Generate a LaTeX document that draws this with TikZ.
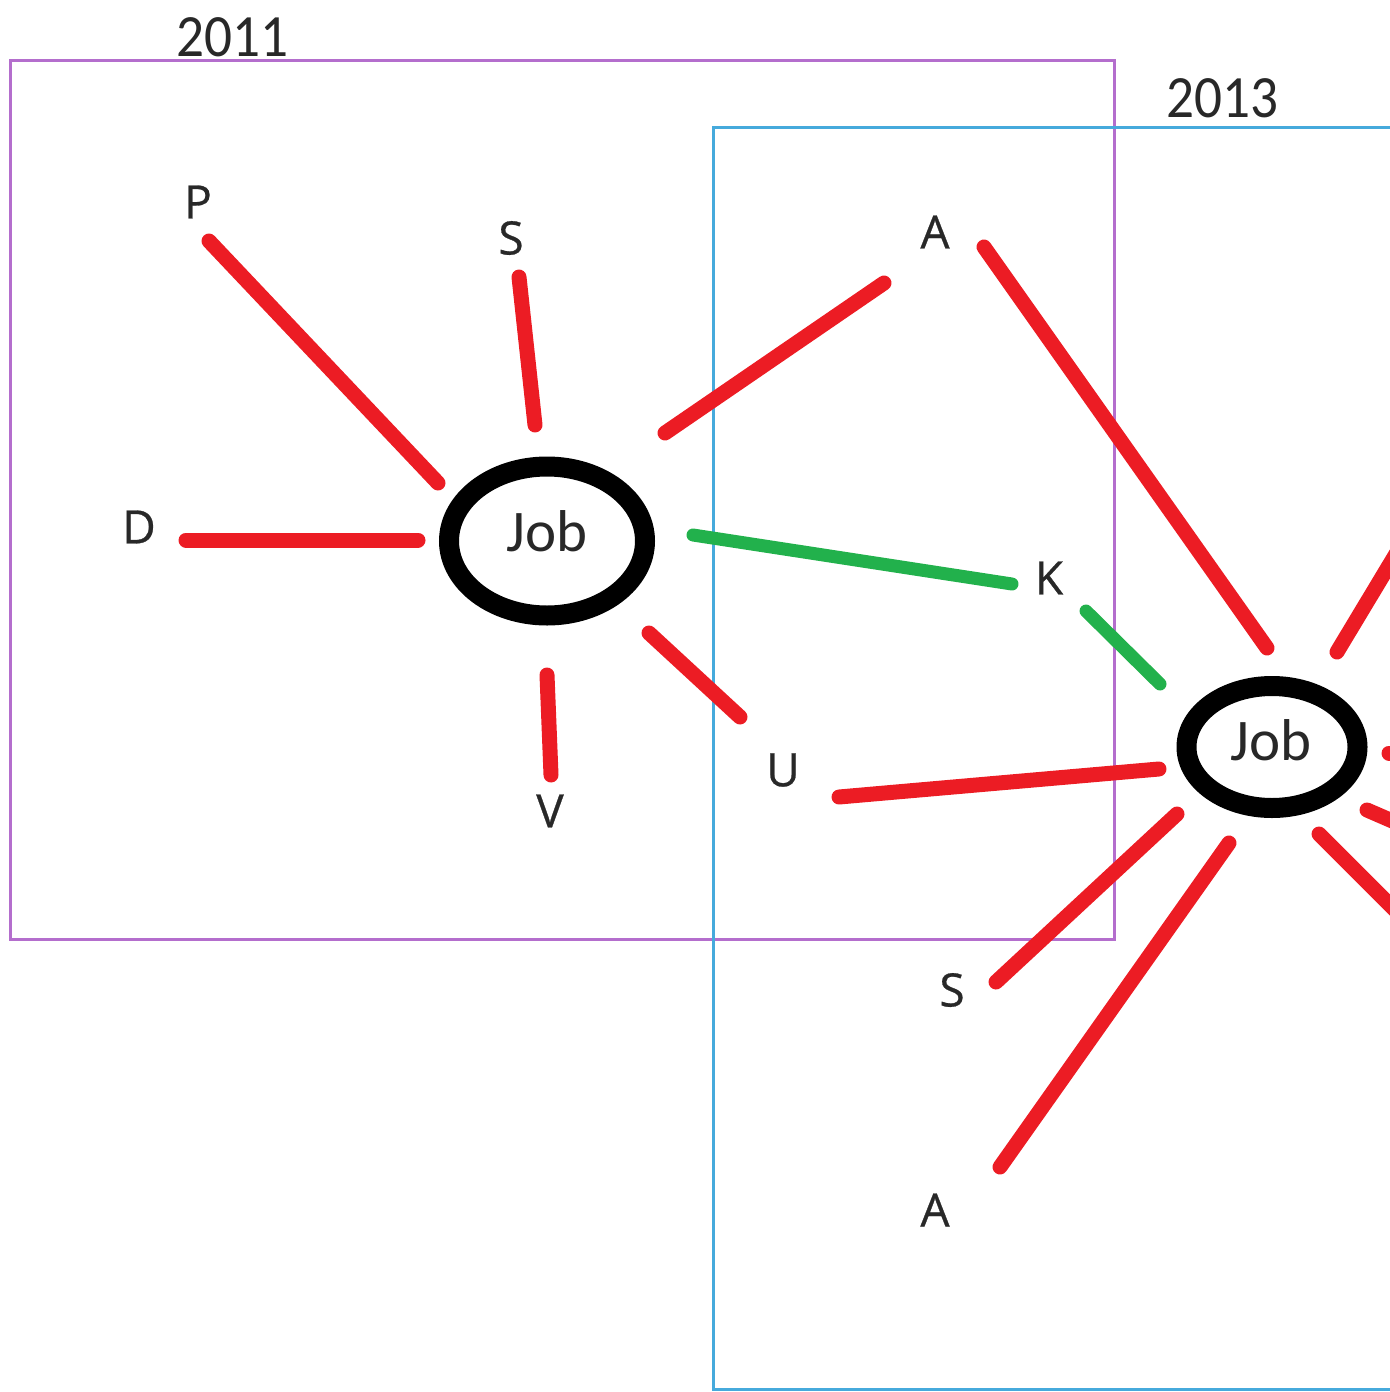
\documentclass[tikz,border=0pt]{standalone}
\usepackage{fontspec}
\setmainfont{Carlito}
\newfontfamily\lblfont[FakeBold=0.6]{Open Sans}
\usetikzlibrary{shapes.geometric}
\definecolor{redln}{RGB}{236,28,36}
\definecolor{greenln}{RGB}{34,177,76}
\definecolor{purpbox}{RGB}{180,110,205}
\definecolor{bluebox}{RGB}{70,170,220}
\definecolor{txt}{RGB}{40,40,40}
\begin{document}
\begin{tikzpicture}[x=0.5pt,y=-0.5pt,
  redline/.style={line width=7.5pt, draw=redln, line cap=round},
  greenline/.style={line width=6.5pt, draw=greenln, line cap=round},
  jobnode/.style={ellipse, draw=black, line width=10pt, inner sep=0pt},
  jobtext/.style={text=txt, font=\fontsize{29.5}{30}\selectfont, inner sep=0pt},
  lbl/.style={text=txt, font=\lblfont\fontsize{23}{24}\selectfont, inner sep=0pt},
  yearlbl/.style={text=txt, font=\fontsize{30}{32}\selectfont, inner sep=0pt, xscale=0.92},
  boxline/.style={line width=1.5pt}]
\useasboundingbox (0,0) rectangle (1390,1392);
\clip (0,0) rectangle (1390,1392);

% year boxes
\draw[boxline, draw=purpbox] (10,60) rectangle (1114,939);
\draw[boxline, draw=bluebox] (713,127) rectangle (1500,1389);
\node[yearlbl] (y2011) at (232,37) {2011};
\node[yearlbl] (y2013) at (1222,98) {2013};

% job nodes
\node[jobnode, minimum width=98pt, minimum height=74.5pt] (job1) at (547,541) {};
\node[jobtext] (job1t) at (547,531) {Job};
\node[jobnode, minimum width=85.5pt, minimum height=61pt] (job2) at (1272,747) {};
\node[jobtext] (job2t) at (1271,740) {Job};

% labels
\node[lbl] (P)  at (198,202) {P};
\node[lbl] (S1) at (511,238) {S};
\node[lbl] (A1) at (935,232) {A};
\node[lbl] (D)  at (139,527) {D};
\node[lbl] (K)  at (1049,578) {K};
\node[lbl] (U)  at (783,770) {U};
\node[lbl] (V)  at (550,811) {V};
\node[lbl] (S2) at (952,990) {S};
\node[lbl] (A2) at (935,1210) {A};

% connector end points
\coordinate (pA) at (209,241);   \coordinate (pB) at (438,483);
\coordinate (sA) at (519,277);   \coordinate (sB) at (535,425);
\coordinate (dA) at (186,540);   \coordinate (dB) at (418,540);
\coordinate (vA) at (547,675);   \coordinate (vB) at (551,775);
\coordinate (uA) at (649,633);   \coordinate (uB) at (740,717);
\coordinate (aA) at (665,433);   \coordinate (aB) at (884,283);
\coordinate (kA) at (693,535);   \coordinate (kB) at (1012,584);
\coordinate (kC) at (1086,611);  \coordinate (kD) at (1160,684);
\coordinate (bA) at (984,247);   \coordinate (bB) at (1267,648);
\coordinate (cA) at (839,797);   \coordinate (cB) at (1159,769);
\coordinate (eA) at (996,982);   \coordinate (eB) at (1177,814);
\coordinate (fA) at (1000,1167); \coordinate (fB) at (1229,843);
\coordinate (gA) at (1337,652);  \coordinate (gB) at (1420,514);
\coordinate (hA) at (1389,753);  \coordinate (hB) at (1450,753);
\coordinate (iA) at (1367,810);  \coordinate (iB) at (1450,846);
\coordinate (jA) at (1319,834);  \coordinate (jB) at (1450,965);

% red connectors
\draw[redline] (pA) -- (pB);
\draw[redline] (sA) -- (sB);
\draw[redline] (dA) -- (dB);
\draw[redline] (vA) -- (vB);
\draw[redline] (uA) -- (uB);
\draw[redline] (aA) -- (aB);
\draw[redline] (bA) -- (bB);
\draw[redline] (cA) -- (cB);
\draw[redline] (eA) -- (eB);
\draw[redline] (fA) -- (fB);
\draw[redline] (gA) -- (gB);
\draw[redline] (hA) -- (hB);
\draw[redline] (iA) -- (iB);
\draw[redline] (jA) -- (jB);

% green connectors
\draw[greenline] (kA) -- (kB);
\draw[greenline] (kC) -- (kD);
\end{tikzpicture}
\end{document}
